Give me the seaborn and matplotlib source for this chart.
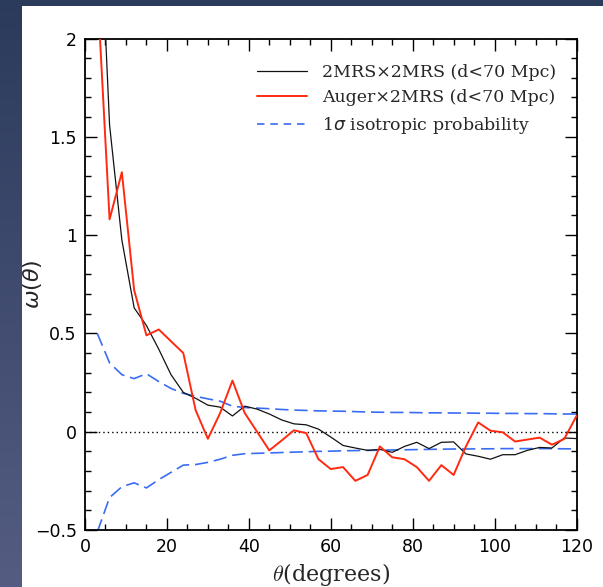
import numpy as np
import pandas as pd
import matplotlib
matplotlib.use("Agg")
import matplotlib.pyplot as plt
from matplotlib.lines import Line2D
from matplotlib.ticker import MultipleLocator, FuncFormatter
import seaborn as sns

# ---- data ----
theta = [3, 6, 9, 12, 15, 18, 21, 24, 27, 30, 33, 36, 39, 42, 45, 48, 51, 54, 57, 60,
         63, 66, 69, 72, 75, 78, 81, 84, 87, 90, 93, 96, 99, 102, 105, 108, 111, 114, 117, 120]

w_2mrs = [2.95, 1.56, 0.975, 0.63, 0.54, 0.42, 0.29, 0.20, 0.17, 0.135,
          0.125, 0.08, 0.13, 0.115, 0.09, 0.06, 0.04, 0.035, 0.013, -0.027,
          -0.07, -0.083, -0.095, -0.09, -0.105, -0.075, -0.054, -0.086, -0.054, -0.052,
          -0.113, -0.125, -0.14, -0.117, -0.117, -0.095, -0.08, -0.083, -0.032, -0.035]

w_auger = [2.26, 1.08, 1.32, 0.72, 0.49, 0.52, 0.46, 0.40, 0.11, -0.036,
           0.095, 0.26, 0.095, 0.0, -0.095, -0.045, 0.007, -0.007, -0.14, -0.19,
           -0.18, -0.25, -0.22, -0.075, -0.13, -0.14, -0.18, -0.25, -0.17, -0.22,
           -0.075, 0.047, 0.005, -0.003, -0.05, -0.04, -0.03, -0.066, -0.037, 0.08]

iso_upper = [0.50, 0.35, 0.29, 0.27, 0.295, 0.255, 0.22, 0.195, 0.18, 0.167,
             0.155, 0.13, 0.123, 0.12, 0.117, 0.113, 0.11, 0.108, 0.106, 0.105,
             0.104, 0.102, 0.10, 0.099, 0.098, 0.098, 0.097, 0.096, 0.096, 0.095,
             0.095, 0.094, 0.094, 0.093, 0.093, 0.092, 0.092, 0.091, 0.09, 0.09]

iso_lower = [-0.51, -0.335, -0.28, -0.26, -0.286, -0.244, -0.207, -0.17, -0.167, -0.156,
             -0.14, -0.12, -0.112, -0.11, -0.108, -0.106, -0.104, -0.102, -0.10, -0.099,
             -0.097, -0.096, -0.095, -0.094, -0.093, -0.092, -0.091, -0.09, -0.089, -0.088,
             -0.088, -0.087, -0.087, -0.086, -0.086, -0.086, -0.086, -0.086, -0.087, -0.087]

legend_labels = ["2MRS\u00d72MRS (d<70 Mpc)", "Auger\u00d72MRS (d<70 Mpc)", r"1$\sigma$ isotropic probability"]
x_ticks = [0, 20, 40, 60, 80, 100, 120]
y_ticks = [-0.5, 0, 0.5, 1, 1.5, 2]

df = pd.DataFrame({"theta": theta, "w2": w_2mrs, "wa": w_auger, "iu": iso_upper, "il": iso_lower})

sns.set_theme(style="white")
plt.rcParams["font.family"] = ["DejaVu Sans"]

W, H = 603, 587
fig = plt.figure(figsize=(W / 100, H / 100), dpi=100, facecolor="white")

# slide background strips (left & top)
bg = fig.add_axes([0, 0, 1, 1], zorder=-10)
bg.axis("off")
grad = np.linspace(0, 1, 64)[:, None]
c_top = np.array([0.17, 0.23, 0.36])
c_bot = np.array([0.33, 0.36, 0.51])
img = c_top[None, None, :] * (1 - grad[..., None]) + c_bot[None, None, :] * grad[..., None]
bg.imshow(img, extent=[0, 22, H, 0], aspect="auto", interpolation="bilinear")
bg.add_patch(plt.Rectangle((0, 0), W, 6, color=(0.17, 0.23, 0.36), lw=0))
bg.set_xlim(0, W)
bg.set_ylim(H, 0)

ax = fig.add_axes([85 / W, 1 - 530 / H, (576.5 - 85) / W, (530 - 38.5) / H])
ax.set_facecolor("white")

blue = "#3a6cf4"
ax.axhline(0, color="black", lw=1.0, ls=(0, (1, 2.2)), zorder=1)
sns.lineplot(data=df, x="theta", y="iu", ax=ax, color=blue, lw=1.2,
             linestyle=(0, (8, 3.5)), zorder=2)
sns.lineplot(data=df, x="theta", y="il", ax=ax, color=blue, lw=1.2,
             linestyle=(0, (8, 3.5)), zorder=2)
sns.lineplot(data=df, x="theta", y="w2", ax=ax, color="#111111", lw=0.9, zorder=3)
sns.lineplot(data=df, x="theta", y="wa", ax=ax, color="#ff2a10", lw=1.4, zorder=4)

ax.set_xlim(0, 120)
ax.set_ylim(-0.5, 2)
ax.set_xticks(x_ticks)
ax.set_yticks(y_ticks)
ax.xaxis.set_minor_locator(MultipleLocator(5))
ax.yaxis.set_minor_locator(MultipleLocator(0.1))


def fmt(v, pos):
    if abs(v - round(v)) < 1e-9:
        s = f"{int(round(v))}"
    else:
        s = f"{v:g}"
    return s.replace("-", "\u2212")


ax.yaxis.set_major_formatter(FuncFormatter(fmt))
ax.xaxis.set_major_formatter(FuncFormatter(fmt))
ax.tick_params(which="both", direction="in", top=True, right=True, bottom=True, left=True,
               colors="black", labelsize=12.5)
ax.tick_params(which="major", length=8.5, width=1.0, pad=6)
ax.tick_params(which="minor", length=4.3, width=1.0)
for sp in ax.spines.values():
    sp.set_visible(True)
    sp.set_color("black")
    sp.set_linewidth(1.3)

ax.set_xlabel(r"$\theta$(degrees)", fontsize=16, family="DejaVu Serif", math_fontfamily="cm", labelpad=3)
ax.set_ylabel(r"$\omega(\theta)$", fontsize=16, math_fontfamily="dejavusans")
ax.yaxis.set_label_coords((44 - 85) / 491.5, 0.5)

handles = [
    Line2D([], [], color="#111111", lw=0.9),
    Line2D([], [], color="#ff2a10", lw=1.4),
    Line2D([], [], color=blue, lw=1.2, ls=(0, (4.5, 3.5))),
]
ax.legend(handles, legend_labels, loc="upper left", bbox_to_anchor=((257 - 85) / 491.5, (530 - 64) / 491.5),
          frameon=False, prop={"family": "DejaVu Serif", "size": 12.5}, handlelength=2.9,
          handletextpad=0.85, labelspacing=0.48, borderaxespad=0, borderpad=0)

fig.savefig("out.png", dpi=100, facecolor="white")
